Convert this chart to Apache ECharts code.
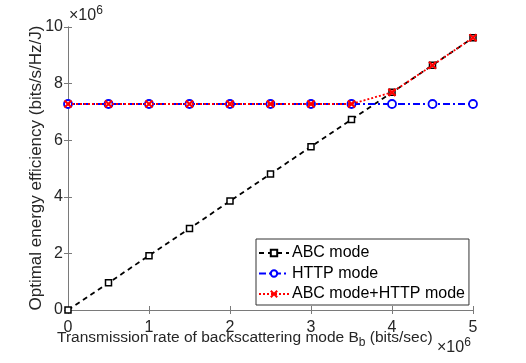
<!DOCTYPE html>
<html>
<head>
<meta charset="utf-8">
<script src="https://cdn.jsdelivr.net/npm/echarts@6/dist/echarts.min.js"></script>
<style>
  html, body { margin: 0; padding: 0; background: #fff; }
  #main { width: 526px; height: 363px; }
</style>
</head>
<body>
<div id="main"></div>
<script>
// transmission rate (x 1e6 bits/sec)
var rates = [0, 0.5, 1, 1.5, 2, 2.5, 3, 3.5, 4, 4.5, 5];
// energy efficiency (x 1e6 bits/s/Hz/J)
var abcMode = [0, 0.96, 1.92, 2.88, 3.85, 4.81, 5.77, 6.73, 7.69, 8.65, 9.62];
var httpMode = [7.28, 7.28, 7.28, 7.28, 7.28, 7.28, 7.28, 7.28, 7.28, 7.28, 7.28];
var hybridMode = [7.28, 7.28, 7.28, 7.28, 7.28, 7.28, 7.28, 7.28, 7.69, 8.65, 9.62];

var seriesNames = ['ABC mode', 'HTTP mode', 'ABC mode+HTTP mode'];
var font = 'Liberation Sans, Arial, sans-serif';
var axisGray = '#7a7a7a';
var textColor = '#262626';

function pairs(ys) {
  return rates.map(function (x, i) { return [x, ys[i]]; });
}

var chart = echarts.init(document.getElementById('main'));

var option = {
  animation: false,
  backgroundColor: '#fff',
  grid: { left: 68, right: 53, top: 27, bottom: 53 },
  xAxis: [
    {
      type: 'value', min: 0, max: 5, interval: 1,
      axisLine: { lineStyle: { color: axisGray, width: 1 } },
      axisTick: { inside: true, length: 4, lineStyle: { color: axisGray } },
      axisLabel: { color: textColor, fontSize: 16, fontFamily: font, margin: 10 },
      splitLine: { show: false }
    },
    {
      type: 'value', min: 0, max: 5, interval: 1, position: 'top',
      axisLine: { show: true, lineStyle: { color: axisGray, width: 1 } },
      axisTick: { show: true, inside: true, length: 4, lineStyle: { color: axisGray } },
      axisLabel: { show: false },
      splitLine: { show: false }
    }
  ],
  yAxis: [
    {
      type: 'value', min: 0, max: 10, interval: 2,
      axisLine: { show: true, lineStyle: { color: axisGray, width: 1 } },
      axisTick: { show: true, inside: true, length: 4, lineStyle: { color: axisGray } },
      axisLabel: { color: textColor, fontSize: 16, fontFamily: font, margin: 5 },
      splitLine: { show: false }
    },
    {
      type: 'value', min: 0, max: 10, interval: 2, position: 'right',
      axisLine: { show: true, lineStyle: { color: axisGray, width: 1 } },
      axisTick: { show: true, inside: true, length: 4, lineStyle: { color: axisGray } },
      axisLabel: { show: false },
      splitLine: { show: false }
    }
  ],
  legend: {
    data: seriesNames,
    orient: 'vertical',
    left: 256,
    top: 239,
    itemWidth: 30,
    itemHeight: 8,
    itemGap: 4.5,
    padding: [6, 4, 3, 2],
    borderColor: '#333',
    borderWidth: 1,
    backgroundColor: '#fff',
    textStyle: { color: '#000', fontSize: 16, fontFamily: font, padding: [0, 0, 0, -2] }
  },
  graphic: [
    {
      type: 'text', x: 36, y: 168, rotation: Math.PI / 2,
      style: {
        text: 'Optimal energy efficiency (bits/s/Hz/J)',
        fill: textColor, font: '17px ' + font,
        align: 'center', verticalAlign: 'middle'
      }
    },
    {
      type: 'text', left: 57, top: 330,
      style: {
        text: 'Transmission rate of backscattering mode B{sub|b} (bits/sec)',
        fill: textColor, font: '15.5px ' + font,
        rich: { sub: { fontSize: 12, fontFamily: font, fill: textColor, padding: [9, 0, 0, 0] } }
      }
    },
    {
      type: 'text', left: 69, top: 5,
      style: {
        text: '×10{sup|6}', fill: textColor, font: '16px ' + font,
        rich: { sup: { fontSize: 12, fontFamily: font, fill: textColor, padding: [0, 0, 9, 0] } }
      }
    },
    {
      type: 'text', left: 437, top: 337,
      style: {
        text: '×10{sup|6}', fill: textColor, font: '16px ' + font,
        rich: { sup: { fontSize: 12, fontFamily: font, fill: textColor, padding: [0, 0, 9, 0] } }
      }
    }
  ],
  series: [
    {
      name: seriesNames[0], type: 'line', data: pairs(abcMode),
      symbol: 'rect', symbolSize: 6, showAllSymbol: true,
      lineStyle: { color: '#000', width: 1.8, type: [5, 4] },
      itemStyle: { color: '#fff', borderColor: '#000', borderWidth: 1.5 },
      z: 2
    },
    {
      name: seriesNames[1], type: 'line', data: pairs(httpMode),
      symbol: 'circle', symbolSize: 8, showAllSymbol: true,
      lineStyle: { color: '#0000ff', width: 1.8, type: [7, 3, 2, 3] },
      itemStyle: { color: '#fff', borderColor: '#0000ff', borderWidth: 1.8 },
      z: 3
    },
    {
      name: seriesNames[2], type: 'line', data: pairs(hybridMode),
      symbol: 'path://M0,0L10,10M10,0L0,10', symbolSize: 7, showAllSymbol: true,
      lineStyle: { color: '#ff0000', width: 1.8, type: [2, 2] },
      itemStyle: { color: '#ff0000', borderColor: '#ff0000', borderWidth: 2.2 },
      z: 4
    }
  ]
};

chart.setOption(option);
</script>
</body>
</html>
